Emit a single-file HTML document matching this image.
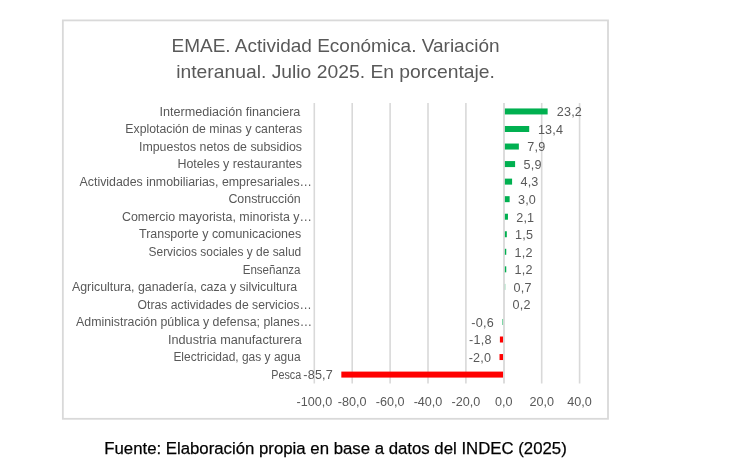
<!DOCTYPE html>
<html><head><meta charset="utf-8"><style>
html,body{margin:0;padding:0;background:#fff;}
body{width:730px;height:470px;position:relative;overflow:hidden;font-family:"Liberation Sans",sans-serif;}
.title{position:absolute;left:0;width:671px;text-align:center;color:#595959;font-size:19.0px;line-height:19.0px;white-space:nowrap;}
.lab,.val,.ax{position:absolute;color:#595959;font-size:12.3px;line-height:12.3px;white-space:nowrap;}
.val{font-size:12.6px;line-height:12.6px;letter-spacing:0.2px;}
.ax{font-size:12.6px;line-height:12.6px;}
.lab{transform-origin:100% 50%;}
.ax{width:60px;text-align:center;}
.txt{position:absolute;left:0;top:0;width:730px;height:470px;filter:grayscale(1);}
.cap{position:absolute;left:0;width:671px;text-align:center;color:#000;-webkit-text-stroke:0.25px #000;font-size:17.4px;line-height:17.4px;white-space:nowrap;}
</style></head><body>
<svg width="730" height="470" style="position:absolute;left:0;top:0" shape-rendering="geometricPrecision">
<rect x="62.85" y="20.4" width="545.15" height="398.4" fill="none" stroke="#d9d9d9" stroke-width="1.8"/>
<line x1="314.30" y1="103" x2="314.30" y2="383.5" stroke="#d9d9d9" stroke-width="1.6"/><line x1="352.20" y1="103" x2="352.20" y2="383.5" stroke="#d9d9d9" stroke-width="1.6"/><line x1="390.10" y1="103" x2="390.10" y2="383.5" stroke="#d9d9d9" stroke-width="1.6"/><line x1="428.00" y1="103" x2="428.00" y2="383.5" stroke="#d9d9d9" stroke-width="1.6"/><line x1="465.90" y1="103" x2="465.90" y2="383.5" stroke="#d9d9d9" stroke-width="1.6"/><line x1="541.70" y1="103" x2="541.70" y2="383.5" stroke="#d9d9d9" stroke-width="1.6"/><line x1="579.60" y1="103" x2="579.60" y2="383.5" stroke="#d9d9d9" stroke-width="1.6"/>
<rect x="504.00" y="108.45" width="43.64" height="6.0" fill="#00b050"/><rect x="504.00" y="125.99" width="25.21" height="6.0" fill="#00b050"/><rect x="504.00" y="143.54" width="14.86" height="6.0" fill="#00b050"/><rect x="504.00" y="161.08" width="11.10" height="6.0" fill="#00b050"/><rect x="504.00" y="178.62" width="8.09" height="6.0" fill="#00b050"/><rect x="504.00" y="196.17" width="5.64" height="6.0" fill="#00b050"/><rect x="504.00" y="213.71" width="3.95" height="6.0" fill="#00b050"/><rect x="504.00" y="231.25" width="2.82" height="6.0" fill="#00b050"/><rect x="504.00" y="248.79" width="2.26" height="6.0" fill="#00b050"/><rect x="504.00" y="266.34" width="2.26" height="6.0" fill="#00b050"/><rect x="503.80" y="283.88" width="1.6" height="6.0" fill="#00b050" fill-opacity="0.5"/><rect x="502.00" y="318.97" width="1.6" height="6.0" fill="#00b050" fill-opacity="0.5"/><rect x="499.90" y="336.51" width="3.40" height="6.0" fill="#ff0000"/><rect x="499.52" y="354.05" width="3.78" height="6.0" fill="#ff0000"/><rect x="341.33" y="371.59" width="161.97" height="6.0" fill="#ff0000"/>
<line x1="504" y1="103" x2="504" y2="383.5" stroke="#d9d9d9" stroke-width="1.8"/>
</svg>
<div class="txt">
<div class="title" style="top:36.32px;left:0.0px;transform:scaleX(1.0)">EMAE. Actividad Económica. Variación</div>
<div class="title" style="top:62.12px;left:0.0px;transform:scaleX(1.016)">interanual. Julio 2025. En porcentaje.</div>
<div class="lab" style="top:105.64px;right:429.40px;transform:scaleX(1.0261)">Intermediación financiera</div><div class="val" style="left:556.72px;top:106.29px">23,2</div><div class="lab" style="top:123.18px;right:428.40px;transform:scaleX(0.9983)">Explotación de minas y canteras</div><div class="val" style="left:537.91px;top:123.84px">13,4</div><div class="lab" style="top:140.73px;right:428.40px;transform:scaleX(1.0062)">Impuestos netos de subsidios</div><div class="val" style="left:527.36px;top:141.38px">7,9</div><div class="lab" style="top:158.27px;right:428.40px;transform:scaleX(1.0130)">Hoteles y restaurantes</div><div class="val" style="left:523.52px;top:158.92px">5,9</div><div class="lab" style="top:175.81px;right:417.80px;transform:scaleX(1.0065)">Actividades inmobiliarias, empresariales…</div><div class="val" style="left:520.45px;top:176.47px">4,3</div><div class="lab" style="top:193.36px;right:429.20px;transform:scaleX(1.0086)">Construcción</div><div class="val" style="left:517.96px;top:194.01px">3,0</div><div class="lab" style="top:210.90px;right:417.80px;transform:scaleX(1.0112)">Comercio mayorista, minorista y…</div><div class="val" style="left:516.23px;top:211.55px">2,1</div><div class="lab" style="top:228.44px;right:428.40px;transform:scaleX(1.0125)">Transporte y comunicaciones</div><div class="val" style="left:515.08px;top:229.10px">1,5</div><div class="lab" style="top:245.99px;right:428.40px;transform:scaleX(0.9712)">Servicios sociales y de salud</div><div class="val" style="left:514.50px;top:246.64px">1,2</div><div class="lab" style="top:263.53px;right:429.40px;transform:scaleX(0.9403)">Enseñanza</div><div class="val" style="left:514.50px;top:264.18px">1,2</div><div class="lab" style="top:281.07px;right:432.40px;transform:scaleX(1.0045)">Agricultura, ganadería, caza y silvicultura</div><div class="val" style="left:513.54px;top:281.72px">0,7</div><div class="lab" style="top:298.61px;right:418.20px;transform:scaleX(0.9909)">Otras actividades de servicios…</div><div class="val" style="left:512.58px;top:299.27px">0,2</div><div class="lab" style="top:316.16px;right:418.20px;transform:scaleX(1.0039)">Administración pública y defensa; planes…</div><div class="val" style="right:236.13px;top:316.81px">-0,6</div><div class="lab" style="top:333.70px;right:428.40px;transform:scaleX(1.0308)">Industria manufacturera</div><div class="val" style="right:238.40px;top:334.35px">-1,8</div><div class="lab" style="top:351.24px;right:429.40px;transform:scaleX(0.9741)">Electricidad, gas y agua</div><div class="val" style="right:238.78px;top:351.90px">-2,0</div><div class="lab" style="top:368.79px;right:428.40px;transform:scaleX(0.8751)">Pesca</div><div class="val" style="right:396.97px;top:369.44px">-85,7</div>
<div class="ax" style="left:284.30px;top:396.04px">-100,0</div><div class="ax" style="left:322.20px;top:396.04px">-80,0</div><div class="ax" style="left:360.10px;top:396.04px">-60,0</div><div class="ax" style="left:398.00px;top:396.04px">-40,0</div><div class="ax" style="left:435.90px;top:396.04px">-20,0</div><div class="ax" style="left:473.80px;top:396.04px">0,0</div><div class="ax" style="left:511.70px;top:396.04px">20,0</div><div class="ax" style="left:549.60px;top:396.04px">40,0</div>
<div class="cap" style="top:439.60px;left:0.3px;transform:scaleX(0.9645)">Fuente: Elaboración propia en base a datos del INDEC (2025)</div>
</div>
</body></html>
